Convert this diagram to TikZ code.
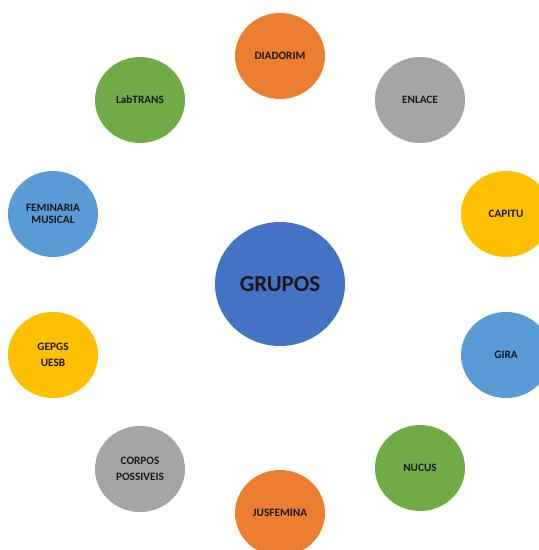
\documentclass[tikz,border=0pt]{standalone}
\usepackage{fontspec}
\setmainfont{Carlito}
\usetikzlibrary{shapes.geometric}
\definecolor{cblue}{HTML}{4472C4}
\definecolor{corange}{HTML}{ED7D31}
\definecolor{cgray}{HTML}{A5A5A5}
\definecolor{cgold}{HTML}{FFC000}
\definecolor{clight}{HTML}{5B9BD5}
\definecolor{cgreen}{HTML}{70AD47}
\tikzset{
  grp/.style={ellipse, minimum width=90bp, minimum height=86bp, inner sep=0pt,
    align=center, font=\bfseries\fontsize{11.3}{12.5}\selectfont, text=black!90},
  twoline/.style={font=\bfseries\fontsize{11.3}{16}\selectfont},
  hub/.style={ellipse, minimum width=130bp, minimum height=124bp, inner sep=0pt,
    fill=cblue, font=\bfseries\fontsize{23}{26}\selectfont, text=black!90},
}
\begin{document}
\begin{tikzpicture}[x=1bp,y=-1bp]
\useasboundingbox (0,0) rectangle (539,550);
\clip (0,0) rectangle (539,550);
\node[hub] (grupos) at (280,284) {GRUPOS};
\node[grp, fill=corange] (diadorim) at (280,56) {DIADORIM};
\node[grp, fill=cgray] (enlace) at (420,100) {ENLACE};
\node[grp, fill=cgold] (capitu) at (506,214) {CAPITU};
\node[grp, fill=clight] (gira) at (506,355) {GIRA};
\node[grp, fill=cgreen] (nucus) at (420,468) {NUCUS};
\node[grp, fill=corange] (jusfemina) at (280,513) {JUSFEMINA};
\node[grp, fill=cgray, twoline] (corpos) at (140,469) {CORPOS\\POSSIVEIS};
\node[grp, fill=cgold, twoline] (gepgs) at (53,355) {GEPGS\\UESB};
\node[grp, fill=clight] (feminaria) at (53,214) {FEMINARIA\\MUSICAL};
\node[grp, fill=cgreen] (labtrans) at (140,100) {LabTRANS};
\end{tikzpicture}
\end{document}
